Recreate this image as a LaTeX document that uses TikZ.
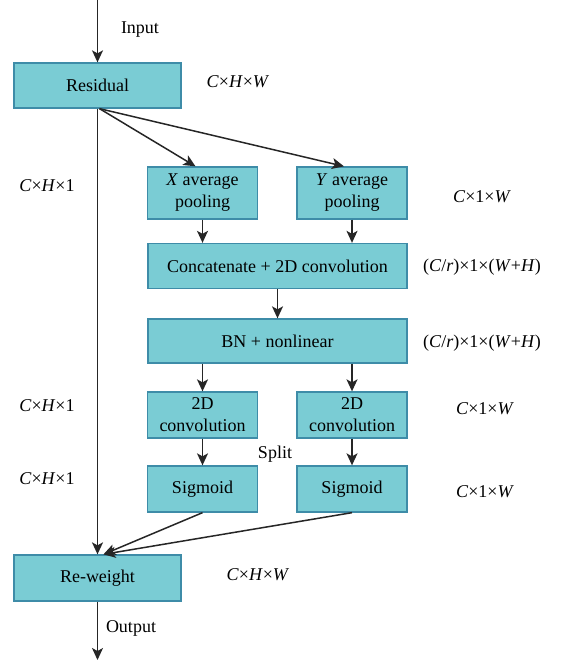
\documentclass[tikz,border=0pt]{standalone}
\usepackage{fontspec}
\setmainfont{Liberation Serif}
\usepackage{xcolor}
\usepackage{tikz}
\usetikzlibrary{arrows.meta, positioning}

\definecolor{boxfill}{RGB}{122,204,212}
\definecolor{boxline}{RGB}{62,140,168}

\tikzset{
    block/.style={draw=boxline, fill=boxfill, line width=1.3pt, inner sep=0pt,
        align=center, font=\fontsize{18}{22}\selectfont},
    lbl/.style={font=\fontsize{18}{22}\selectfont, inner sep=0pt},
    flow/.style={-{Stealth[length=12pt,width=11pt,inset=3pt]}, line width=1.5pt, draw=black!85}
}

\begin{document}
\begin{tikzpicture}[x=1pt, y=-1pt]
        \useasboundingbox (0,0) rectangle (568,660);
        \node[block, minimum width=167pt, minimum height=45pt] (res) at (97.5,85.5) {Residual};
        \node[block, minimum width=110pt, minimum height=52pt] (xp) at (202.5,193) {\textit{X} average\\pooling};
        \node[block, minimum width=110pt, minimum height=52pt] (yp) at (352,193) {\textit{Y} average\\pooling};
        \node[block, minimum width=259pt, minimum height=45pt] (cat) at (277.5,266) {Concatenate + 2D convolution};
        \node[block, minimum width=259pt, minimum height=44pt] (bn) at (277.5,341) {BN + nonlinear};
        \node[block, minimum width=110pt, minimum height=46pt] (cl) at (202.5,415) {2D\\convolution};
        \node[block, minimum width=110pt, minimum height=46pt] (cr) at (352,415) {2D\\convolution};
        \node[block, minimum width=110pt, minimum height=46pt] (sl) at (202.5,489) {Sigmoid};
        \node[block, minimum width=110pt, minimum height=46pt] (sr) at (352,489) {Sigmoid};
        \node[block, minimum width=167pt, minimum height=46pt] (rw) at (97.5,578) {Re-weight};
        \coordinate (in) at (97.5,0);
        \coordinate (out) at (97.5,660);
%
        \node[lbl] (tin) at (140,30) {Input};
        \node[lbl] (tout) at (131,628) {Output};
        \node[lbl] (tsplit) at (275,454) {Split};
        \node[lbl] (d1) at (238,82) {\textit{C}×\textit{H}×\textit{W}};
        \node[lbl] (d2) at (47,186) {\textit{C}×\textit{H}×1};
        \node[lbl] (d3) at (482,197) {\textit{C}×1×\textit{W}};
        \node[lbl] (d4) at (482,267) {(\textit{C}/\textit{r})×1×(\textit{W}+\textit{H})};
        \node[lbl] (d5) at (482,343) {(\textit{C}/\textit{r})×1×(\textit{W}+\textit{H})};
        \node[lbl] (d6) at (47,406) {\textit{C}×\textit{H}×1};
        \node[lbl] (d7) at (485,409) {\textit{C}×1×\textit{W}};
        \node[lbl] (d8) at (47,479) {\textit{C}×\textit{H}×1};
        \node[lbl] (d9) at (485,492) {\textit{C}×1×\textit{W}};
        \node[lbl] (d10) at (258,575) {\textit{C}×\textit{H}×\textit{W}};
%
        \path[every edge/.style={draw, flow}]
        (in) edge (res.north)
        (res.south) edge (rw.north)
        ([xshift=2pt]res.south) edge ([xshift=-7pt]xp.north)
        ([xshift=2pt]res.south) edge ([xshift=-8pt]yp.north)
        (xp.south) edge (xp.south |- cat.north)
        (yp.south) edge (yp.south |- cat.north)
        (cat.south) edge (bn.north)
        (bn.south -| cl) edge (cl.north)
        (bn.south -| cr) edge (cr.north)
        (cl.south) edge (sl.north)
        (cr.south) edge (sr.north)
        (sl.south) edge ([xshift=6pt]rw.north)
        (sr.south) edge ([xshift=6pt]rw.north)
        (rw.south) edge (out);
\end{tikzpicture}
\end{document}
